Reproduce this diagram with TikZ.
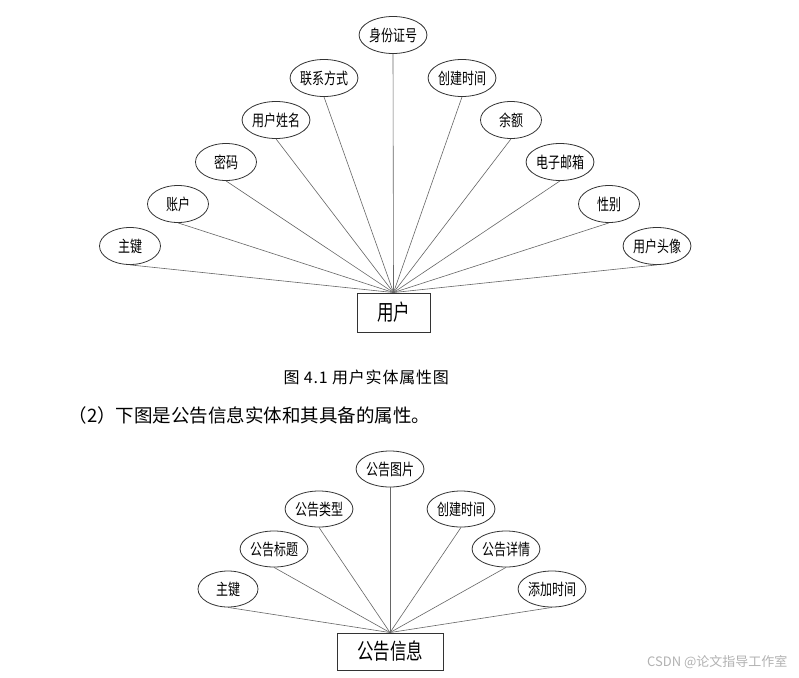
\documentclass[tikz,border=0pt]{standalone}
\usepackage{fontspec}
\usepackage{graphicx}
\setmainfont{Noto Sans CJK SC}
\usetikzlibrary{shapes.geometric}
\tikzset{
  attr/.style={draw=black!80, line width=0.8pt, ellipse, minimum width=61pt, minimum height=37pt, inner sep=0pt,
    font=\fontsize{16}{16}\selectfont},
  ent/.style={draw=black!80, line width=0.9pt, rectangle, inner sep=0pt},
  link/.style={draw=black!60, line width=0.6pt}
}
\newcommand{\sq}[1]{\scalebox{0.75}[1]{#1}}
\begin{document}
\begin{tikzpicture}[x=1pt,y=-1pt]
\useasboundingbox[fill=white] (0,0) rectangle (799,677);
% top diagram
\node[ent, minimum width=73pt, minimum height=39pt, font=\fontsize{22}{22}\selectfont] (user) at (393.5,312.5) {\sq{用户}};
\node[attr] (u1) at (393,35) {\sq{身份证号}};
\node[attr] (u2) at (324,78) {\sq{联系方式}};
\node[attr] (u3) at (462,78) {\sq{创建时间}};
\node[attr] (u4) at (276,120) {\sq{用户姓名}};
\node[attr] (u5) at (511,120) {\sq{余额}};
\node[attr] (u6) at (226,162) {\sq{密码}};
\node[attr] (u7) at (560,162) {\sq{电子邮箱}};
\node[attr] (u8) at (178,204) {\sq{账户}};
\node[attr] (u9) at (609,204) {\sq{性别}};
\node[attr] (u10) at (130,246) {\sq{主键}};
\node[attr] (u11) at (657,246) {\sq{用户头像}};
\foreach \i in {1,...,11} {\draw[link] (u\i.south) -- (user.north);}
% captions
\node[font=\fontsize{16}{16}\selectfont\addfontfeatures{LetterSpace=5}, anchor=west] (cap) at (280,377) {图 4.1 用户实体属性图};
\node[font=\fontsize{18.5}{18.5}\selectfont, anchor=west] (body) at (65,415) {（2）下图是公告信息实体和其具备的属性。};
% bottom diagram
\node[ent, minimum width=106pt, minimum height=37pt, font=\fontsize{22}{22}\selectfont] (notice) at (390,651.5) {\sq{公告信息}};
\node[attr, minimum width=60pt, minimum height=36pt] (n1) at (390,469) {\sq{公告图片}};
\node[attr, minimum width=60pt, minimum height=36pt] (n2) at (319,509) {\sq{公告类型}};
\node[attr, minimum width=60pt, minimum height=36pt] (n3) at (461,509) {\sq{创建时间}};
\node[attr, minimum width=60pt, minimum height=36pt] (n4) at (274,549) {\sq{公告标题}};
\node[attr, minimum width=60pt, minimum height=36pt] (n5) at (506,549) {\sq{公告详情}};
\node[attr, minimum width=60pt, minimum height=36pt] (n6) at (228,589) {\sq{主键}};
\node[attr, minimum width=60pt, minimum height=36pt] (n7) at (552,589) {\sq{添加时间}};
\foreach \i in {1,...,7} {\draw[link] (n\i.south) -- (notice.north);}
% watermark
\node[font=\fontsize{13}{13}\selectfont, text=black!30, anchor=east] (wm) at (791,662) {CSDN @论文指导工作室};
\end{tikzpicture}
\end{document}
